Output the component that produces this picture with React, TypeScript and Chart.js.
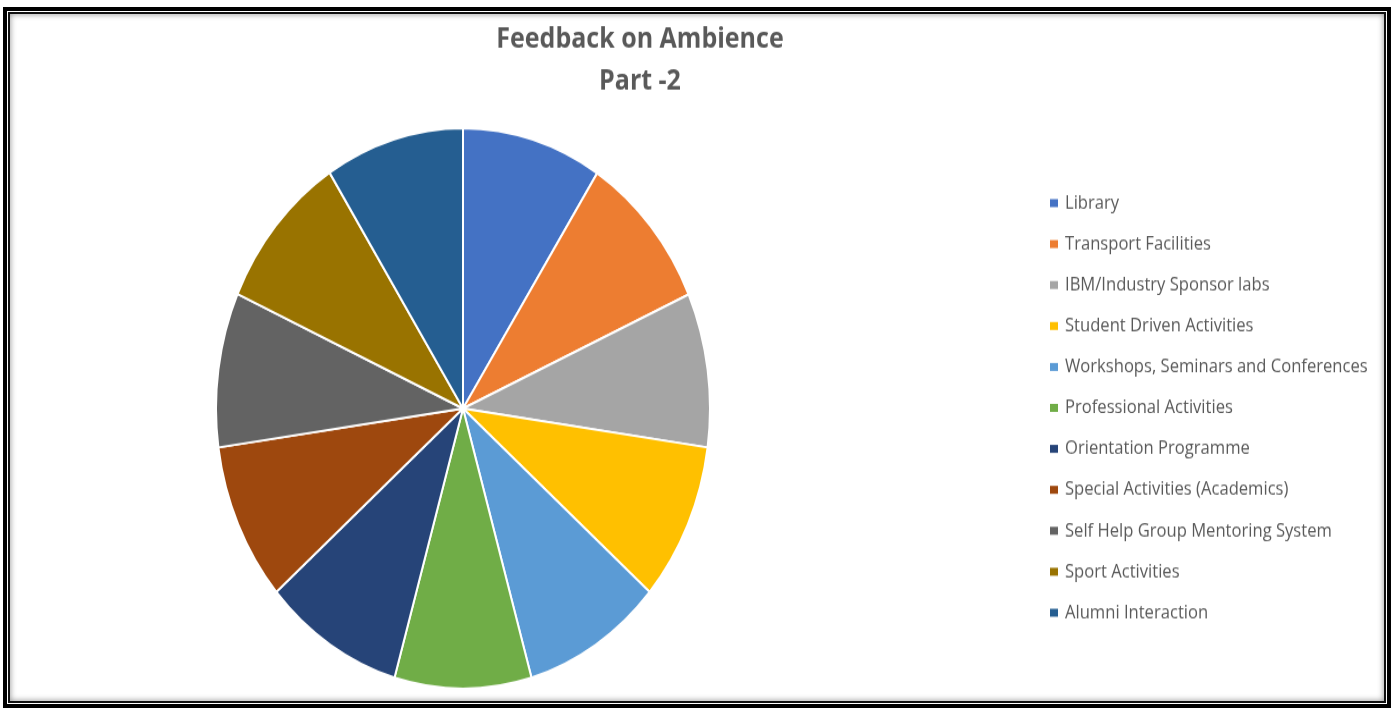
import React, { useEffect, useRef } from "react";
import { Chart, registerables } from "chart.js";

Chart.register(...registerables);

const titleLines = ["Feedback on Ambience", "Part -2"];

const categories = [
  "Library",
  "Transport Facilities",
  "IBM/Industry Sponsor labs",
  "Student Driven Activities",
  "Workshops, Seminars and Conferences",
  "Professional Activities",
  "Orientation Programme",
  "Special Activities (Academics)",
  "Self Help Group Mentoring System",
  "Sport Activities",
  "Alumni Interaction",
];

const values = [32.9, 33.1, 32.0, 32.9, 33.0, 32.2, 33.0, 32.9, 32.1, 33.2, 32.7];

const colors = [
  "#4472C4",
  "#ED7D31",
  "#A5A5A5",
  "#FFC000",
  "#5B9BD5",
  "#70AD47",
  "#264478",
  "#9E480E",
  "#636363",
  "#997300",
  "#255E91",
];

const W = 1393;
const H = 624;
const FULL_H = 708;

const overlayPlugin = {
  id: "overlayText",
  afterDraw(chart: any) {
    const ctx = chart.ctx as CanvasRenderingContext2D;
    ctx.save();
    // title
    ctx.fillStyle = "#595959";
    ctx.textAlign = "center";
    ctx.textBaseline = "alphabetic";
    ctx.font = "bold 25px 'Open Sans', Lato, sans-serif";
    ctx.fillText(titleLines[0], 640, 42);
    ctx.fillText(titleLines[1], 640, 79);
    // legend
    const labels: string[] = chart.data.labels;
    const bg: string[] = chart.data.datasets[0].backgroundColor;
    ctx.textAlign = "left";
    ctx.textBaseline = "middle";
    ctx.font = "16.6px 'Open Sans', Lato, sans-serif";
    labels.forEach((lab, i) => {
      const cy = 179 + i * 36.1;
      ctx.fillStyle = bg[i];
      ctx.fillRect(1050, cy - 3.5, 8, 7);
      ctx.fillStyle = "#595959";
      ctx.fillText(lab, 1065, cy);
    });
    ctx.restore();
  },
};

export default function App() {
  const canvasRef = useRef<HTMLCanvasElement | null>(null);

  useEffect(() => {
    let chart: Chart | null = null;
    let cancelled = false;
    const make = () => {
      if (cancelled || !canvasRef.current) return;
      chart = new Chart(canvasRef.current, {
        type: "pie",
        data: {
          labels: categories,
          datasets: [
            {
              data: values,
              backgroundColor: colors,
              borderColor: "#ffffff",
              borderWidth: 2,
            },
          ],
        },
        options: {
          responsive: false,
          animation: false,
          devicePixelRatio: 1,
          layout: {
            padding: { left: 215, right: W - 711, top: 112, bottom: H - 608 },
          },
          plugins: {
            legend: { display: false },
            title: { display: false },
            tooltip: { enabled: false },
          },
        },
        plugins: [overlayPlugin],
      });
    };
    const fontsReady = (document as any).fonts
      ? Promise.all([
          (document as any).fonts.load("bold 25px 'Open Sans'"),
          (document as any).fonts.load("16.6px 'Open Sans'"),
        ]).catch(() => null)
      : Promise.resolve(null);
    fontsReady.then(make);
    return () => {
      cancelled = true;
      if (chart) chart.destroy();
    };
  }, []);

  return (
    <div
      style={{
        position: "fixed",
        left: 0,
        top: 0,
        width: W,
        height: FULL_H,
        background: "#ffffff",
        overflow: "hidden",
      }}
    >
      <div
        style={{
          position: "absolute",
          left: 0,
          top: 0,
          width: W,
          height: H,
          transform: `scaleY(${FULL_H / H})`,
          transformOrigin: "top left",
        }}
      >
        <canvas ref={canvasRef} width={W} height={H} style={{ display: "block" }} />
      </div>
      <div
        style={{
          position: "absolute",
          left: 3,
          top: 7,
          width: 1388,
          height: 701,
          border: "4px solid #000",
          boxSizing: "border-box",
          pointerEvents: "none",
        }}
      >
        <div
          style={{
            position: "absolute",
            left: 1,
            top: 1,
            right: 1,
            bottom: 1,
            border: "2px solid #111",
            boxShadow: "inset 0 0 6px rgba(0,0,0,0.45)",
          }}
        />
      </div>
    </div>
  );
}
